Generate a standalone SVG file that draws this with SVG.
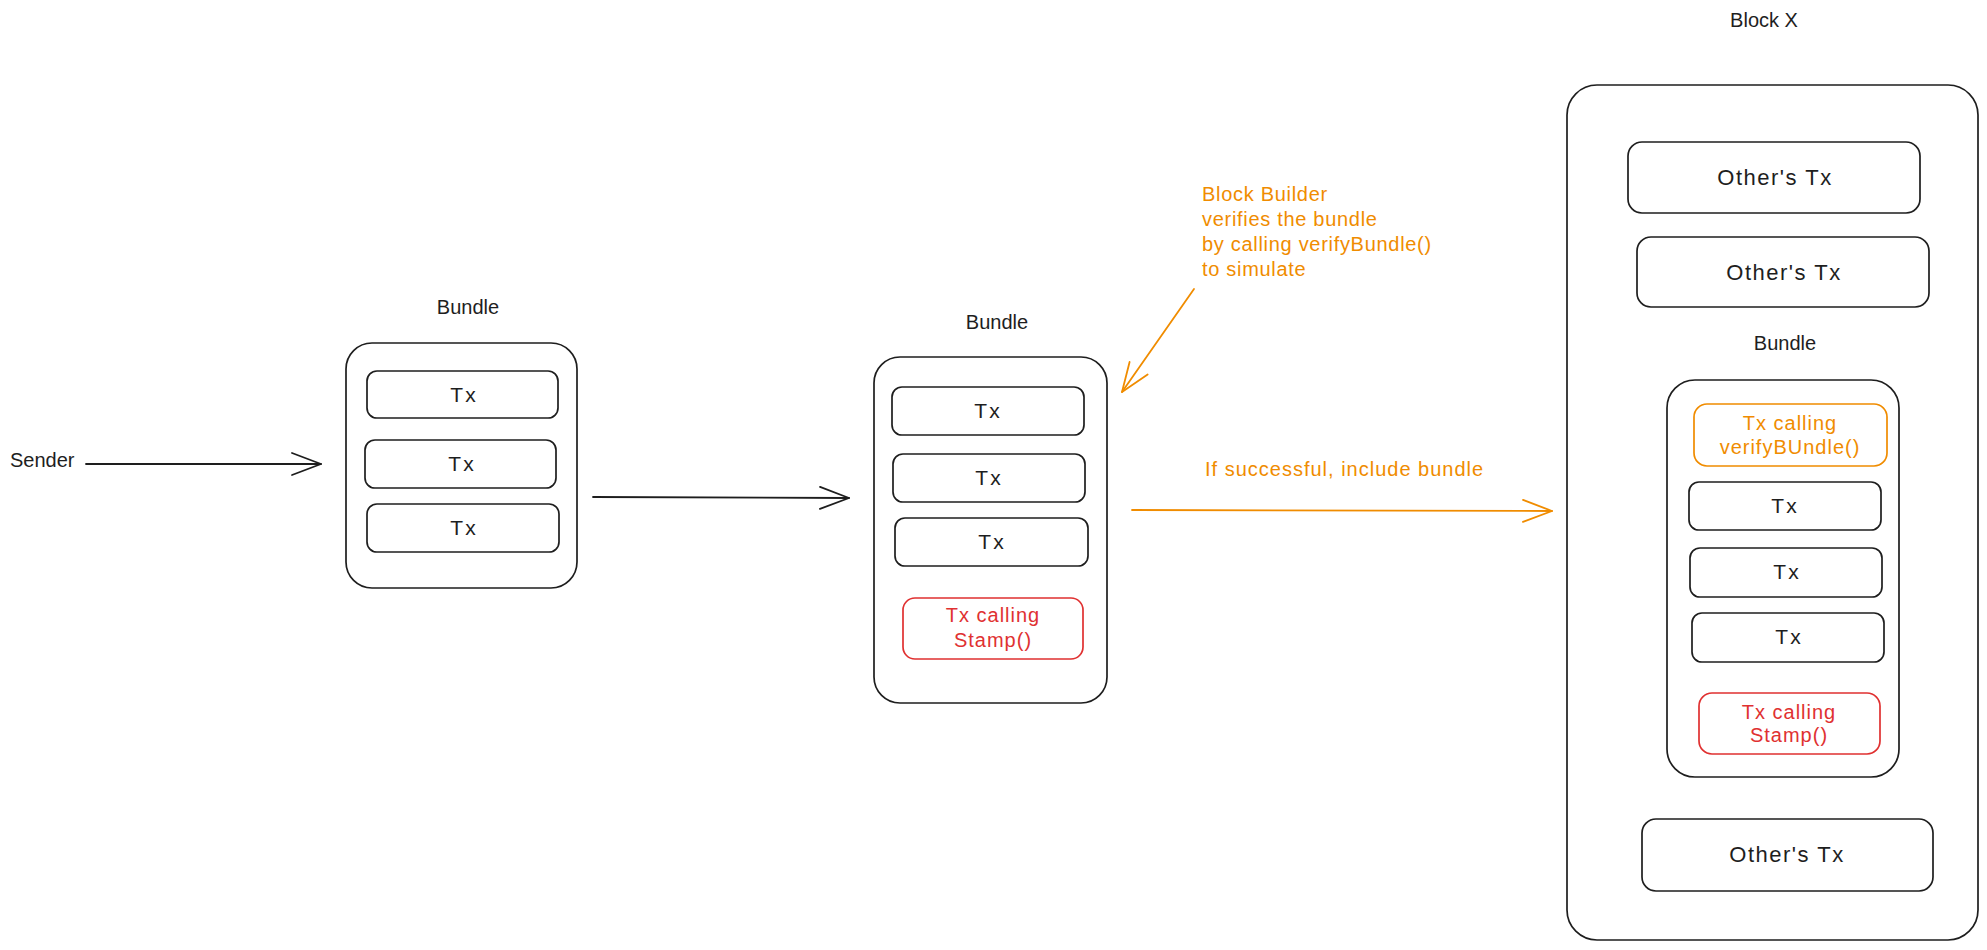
<svg xmlns="http://www.w3.org/2000/svg" width="1987" height="950" viewBox="0 0 1987 950">
<style>
  .bg { fill: #ffffff; }
  .box { fill: none; stroke: #1e1e1e; stroke-width: 1.7; }
  .red { fill: none; stroke: #e03131; stroke-width: 1.7; }
  .org { fill: none; stroke: #f08c00; stroke-width: 1.7; }
  .t { font-family: "Liberation Sans", "Open Sans", sans-serif; font-size: 20px; fill: #1e1e1e; }
  .tx { font-family: "Liberation Sans", "Open Sans", sans-serif; font-size: 21px; letter-spacing: 2px; fill: #1e1e1e; text-anchor: middle; }
  .ot { font-size: 22px; letter-spacing: 1.5px; }
  .ls { letter-spacing: 1px; }
  .c { text-anchor: middle; }
  .tr { fill: #e03131; }
  .to { fill: #f08c00; }
  .line { fill: none; stroke-width: 1.8; stroke-linecap: round; }
</style>
<defs>
  <marker id="ahk" viewBox="-31 -13 33 26" refX="0" refY="0" markerWidth="33" markerHeight="26" markerUnits="userSpaceOnUse" orient="auto">
    <path d="M-29,-11 L0,0 L-29,11" fill="none" stroke="#1e1e1e" stroke-width="1.8" stroke-linecap="round" stroke-linejoin="round"/>
  </marker>
  <marker id="aho" viewBox="-31 -13 33 26" refX="0" refY="0" markerWidth="33" markerHeight="26" markerUnits="userSpaceOnUse" orient="auto">
    <path d="M-29,-11 L0,0 L-29,11" fill="none" stroke="#f08c00" stroke-width="1.8" stroke-linecap="round" stroke-linejoin="round"/>
  </marker>
</defs>
<rect class="bg" x="0" y="0" width="1987" height="950"/>

<g id="sender">
  <text class="t" x="10" y="467">Sender</text>
</g>

<g id="bundle1">
  <text class="t c" x="468" y="314">Bundle</text>
  <rect class="box" x="346" y="343" width="231" height="245" rx="26"/>
  <g id="b1-tx1"><rect class="box" x="367" y="371" width="191" height="47" rx="10"/><text class="tx" x="464" y="402">Tx</text></g>
  <g id="b1-tx2"><rect class="box" x="365" y="440" width="191" height="48" rx="10"/><text class="tx" x="462" y="471">Tx</text></g>
  <g id="b1-tx3"><rect class="box" x="367" y="504" width="192" height="48" rx="10"/><text class="tx" x="464" y="535">Tx</text></g>
</g>

<g id="bundle2">
  <text class="t c" x="997" y="329">Bundle</text>
  <rect class="box" x="874" y="357" width="233" height="346" rx="26"/>
  <g id="b2-tx1"><rect class="box" x="892" y="387" width="192" height="48" rx="10"/><text class="tx" x="988" y="418">Tx</text></g>
  <g id="b2-tx2"><rect class="box" x="893" y="454" width="192" height="48" rx="10"/><text class="tx" x="989" y="485">Tx</text></g>
  <g id="b2-tx3"><rect class="box" x="895" y="518" width="193" height="48" rx="10"/><text class="tx" x="992" y="549">Tx</text></g>
  <g id="b2-stamp"><rect class="red" x="903" y="598" width="180" height="61" rx="12"/>
    <text class="t c tr ls" x="993" y="622">Tx calling</text>
    <text class="t c tr ls" x="993" y="647">Stamp()</text></g>
</g>

<g id="note">
  <text class="t to" x="1202" y="201" letter-spacing="0.7">Block Builder</text>
  <text class="t to" x="1202" y="226" letter-spacing="0.7">verifies the bundle</text>
  <text class="t to" x="1202" y="251" letter-spacing="0.7">by calling verifyBundle()</text>
  <text class="t to" x="1202" y="276" letter-spacing="0.7">to simulate</text>
  <text class="t to" x="1205" y="476" letter-spacing="1">If successful, include bundle</text>
</g>

<g id="blockx">
  <text class="t c" x="1764" y="27">Block X</text>
  <rect class="box" x="1567" y="85" width="411" height="855" rx="30"/>
  <g id="bx-other1"><rect class="box" x="1628" y="142" width="292" height="71" rx="14"/><text class="t c ot" x="1775" y="185">Other's Tx</text></g>
  <g id="bx-other2"><rect class="box" x="1637" y="237" width="292" height="70" rx="14"/><text class="t c ot" x="1784" y="280">Other's Tx</text></g>
  <text class="t c" x="1785" y="350">Bundle</text>
  <g id="bx-bundle">
    <rect class="box" x="1667" y="380" width="232" height="397" rx="28"/>
    <g id="bx-verify"><rect class="org" x="1694" y="404" width="193" height="62" rx="13"/>
      <text class="t c to ls" x="1790" y="430">Tx calling</text>
      <text class="t c to ls" x="1790" y="454">verifyBUndle()</text></g>
    <g id="bx-tx1"><rect class="box" x="1689" y="482" width="192" height="48" rx="10"/><text class="tx" x="1785" y="513">Tx</text></g>
    <g id="bx-tx2"><rect class="box" x="1690" y="548" width="192" height="49" rx="10"/><text class="tx" x="1787" y="579">Tx</text></g>
    <g id="bx-tx3"><rect class="box" x="1692" y="613" width="192" height="49" rx="10"/><text class="tx" x="1789" y="644">Tx</text></g>
    <g id="bx-stamp"><rect class="red" x="1699" y="693" width="181" height="61" rx="13"/>
      <text class="t c tr ls" x="1789" y="719">Tx calling</text>
      <text class="t c tr ls" x="1789" y="742">Stamp()</text></g>
  </g>
  <g id="bx-other3"><rect class="box" x="1642" y="819" width="291" height="72" rx="14"/><text class="t c ot" x="1787" y="862">Other's Tx</text></g>
</g>

<g id="connectors">
  <path class="line" d="M86,464 L321,464" stroke="#1e1e1e" marker-end="url(#ahk)"/>
  <path class="line" d="M593,497 L849,498" stroke="#1e1e1e" marker-end="url(#ahk)"/>
  <path class="line" d="M1194,289 L1122,392" stroke="#f08c00" marker-end="url(#aho)"/>
  <path class="line" d="M1132,510 L1552,511" stroke="#f08c00" marker-end="url(#aho)"/>
</g>
</svg>
